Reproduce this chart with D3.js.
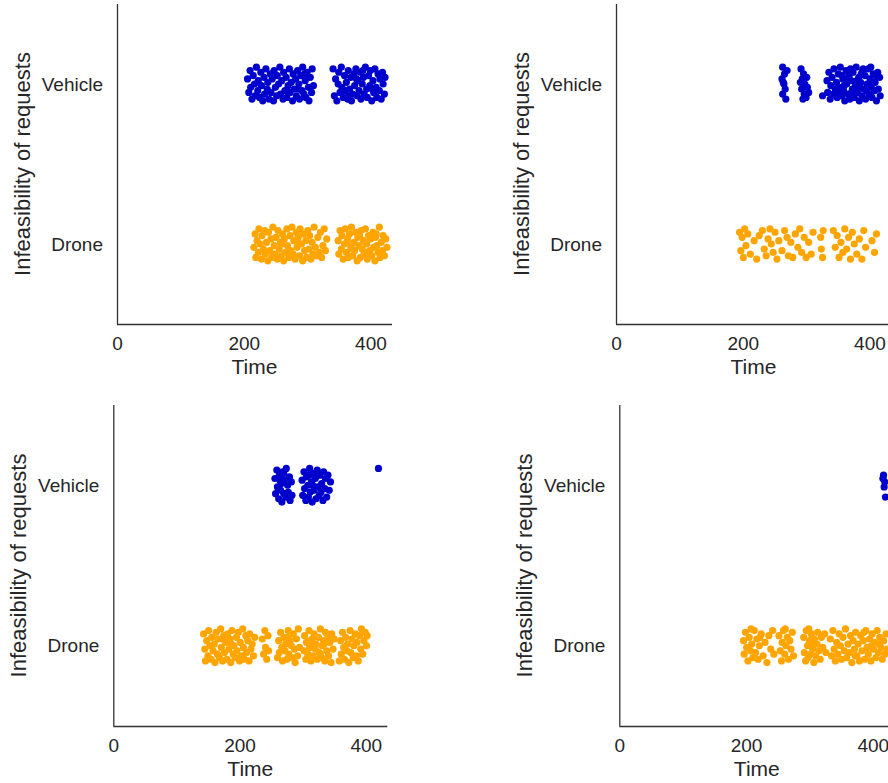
<!DOCTYPE html>
<html>
<head>
<meta charset="utf-8">
<script src="https://cdn.jsdelivr.net/npm/d3@7"></script>
<style>
  html, body { margin: 0; padding: 0; background: #ffffff; }
  svg { display: block; font-family: "Liberation Sans", Arial, sans-serif; }
</style>
</head>
<body>
<svg id="chart" width="888" height="783"></svg>
<script>
// Categories on the y axis and shared x axis settings
const categories = ["Vehicle", "Drone"];
const xTicks = [0, 200, 400];
const xDomain = [0, 434];
const yLabel = "Infeasibility of requests";
const xLabel = "Time";

// Each point: [time, jitter offset in hundredths of a category step]
const run1Vehicle = [
  [206,-3],[208,5],[210,-8],[211,2],[213,9],[215,-5],[217,0],[218,7],[220,-10],[222,4],[223,-2],[225,8],[227,-7],[228,1],[230,10],[232,-4],[233,6],[235,-9],[237,3],[238,-1],[240,9],[242,-6],[243,5],[245,-3],[247,10],[248,-8],[250,2],[252,7],[253,-5],[255,0],[257,-10],[258,6],[260,-2],[262,9],[263,-7],[265,4],[267,-4],[268,8],[270,1],[272,-9],[273,5],[275,-1],[277,10],[278,-6],[280,3],[282,-3],[283,7],[285,-8],[287,0],[288,9],[290,-5],[292,4],[293,-10],[295,6],[297,-2],[298,8],[300,-7],[302,2],[303,10],[305,-4],[307,5],[308,-9],[310,1],[296,-6],[286,3],
  [341,-9],[343,7],[345,-3],[347,10],[349,0],[350,-7],[352,5],[354,-10],[355,2],[357,8],[359,-5],[360,4],[362,-1],[364,9],[365,-8],[367,3],[369,-4],[370,10],[372,6],[374,-6],[375,1],[377,-9],[379,7],[380,-2],[382,4],[384,-7],[385,9],[387,0],[389,-4],[390,6],[392,-10],[394,3],[395,8],[397,-5],[399,1],[400,-8],[402,10],[404,-2],[405,5],[407,-9],[409,2],[410,8],[412,-6],[414,4],[415,-3],[417,9],[419,-7],[420,0],[422,6],[423,-4],[378,-3],[366,7],[388,-8],[403,3]
];
const run1Drone = [
  [216,2],[218,-6],[219,8],[221,-2],[223,5],[224,-9],[226,0],[228,9],[229,-5],[231,3],[233,-8],[234,6],[236,-1],[238,10],[239,-7],[241,4],[243,-3],[244,8],[246,-10],[248,1],[249,6],[251,-4],[253,9],[254,-8],[256,3],[258,-1],[259,7],[261,-6],[263,10],[264,-3],[266,5],[268,-9],[269,1],[271,8],[273,-5],[274,4],[276,-10],[278,6],[279,-2],[281,9],[283,-7],[284,2],[286,-4],[288,7],[289,-9],[291,0],[293,10],[294,-6],[296,4],[298,-2],[299,8],[301,-8],[303,3],[304,-5],[306,9],[308,-1],[309,6],[311,-10],[313,2],[315,7],[317,-4],[319,5],[321,-7],[323,8],[325,1],[327,-9],[329,4],[331,-3],[260,0],[285,-1],
  [349,-2],[350,6],[352,-8],[354,3],[355,-5],[357,9],[359,0],[360,-9],[362,5],[364,-3],[365,8],[367,-6],[369,2],[370,-10],[372,7],[374,-1],[375,4],[377,-7],[379,10],[380,-4],[382,1],[384,8],[385,-8],[387,3],[389,-2],[390,6],[392,-9],[394,0],[395,9],[397,-5],[399,4],[400,-3],[402,7],[404,-7],[405,2],[407,10],[409,-6],[410,1],[412,5],[414,-10],[415,8],[417,-1],[419,4],[420,-5],[422,7],[424,-3],[426,2],[371,3],[383,-5],[396,5],[408,-4],[363,-1]
];

const run2Vehicle = [
  [263,-10],[266,-6],[262,-3],[265,0],[267,3],[263,6],[268,9],[270,-8],[264,-1],
  [292,-9],[296,-6],[294,-3],[298,0],[293,3],[297,6],[295,9],[301,-4],[302,2],[300,8],[304,5],[291,-1],
  [326,7],
  [333,-2],[334,5],[336,-7],[338,9],[339,1],[341,-4],[343,6],[344,-9],[346,3],[348,-1],[349,8],[351,-6],[353,2],[354,-10],[356,7],[358,-3],[359,4],[361,10],[363,-8],[364,0],[366,6],[368,-5],[369,9],[371,-2],[373,3],[374,-7],[376,8],[378,1],[379,-10],[381,5],[383,-4],[384,10],[386,-1],[388,7],[389,-8],[391,3],[393,-5],[394,9],[396,0],[398,-9],[399,6],[401,-3],[403,2],[404,8],[406,-6],[408,4],[409,-1],[411,10],[413,-7],[414,3],[416,-4],[417,7],[402,-10],[387,-6],[372,5],[357,-5],[395,4],[380,-2],[365,-3],[350,4],[370,-9],[385,2],[400,0],[410,-5],[375,6],[360,1],[390,-9]
];
const run2Drone = [
  [195,-7],[197,4],[199,-4],[201,8],[203,-9],[205,1],[208,-6],[212,6],[218,-2],[222,9],[226,-5],[231,-8],[234,3],[237,7],[240,-3],[243,-9],[245,0],[248,5],[251,-7],[254,9],[257,-2],[262,4],[266,-8],[270,-4],[272,7],[276,-1],[279,8],[283,-6],[287,2],[290,-9],[293,5],[297,-4],[300,8],[304,-1],[308,6],[311,-7],[323,-4],[324,3],[326,8],[327,-8],[343,-8],[346,2],[349,-5],[352,8],[355,-1],[358,5],[361,-9],[364,3],[367,-4],[370,9],[373,-7],[376,0],[380,6],[384,-3],[388,9],[391,-8],[394,2],[404,-2],[408,5],[411,-6]
];

const run3Vehicle = [
  [256,-4],[257,5],[259,-9],[260,1],[262,8],[263,-6],[265,3],[266,-1],[267,10],[268,-8],[270,5],[271,-3],[273,7],[274,-10],[276,0],[277,4],[279,-5],[280,9],[282,-2],[283,6],[270,-7],[264,-3],
  [299,-3],[300,6],[302,-8],[303,2],[305,9],[306,-5],[308,0],[309,7],[311,-10],[312,4],[314,-2],[315,10],[317,-7],[318,3],[320,-4],[321,8],[323,-9],[324,1],[326,6],[327,-6],[329,4],[330,-1],[332,9],[333,-8],[335,2],[336,-4],[338,7],[340,-6],[342,3],[344,-2],[316,0],[310,-6],
  [420,-10]
];
const run3Drone = [
  [143,-7],[145,2],[146,9],[148,-3],[150,6],[151,-9],[153,0],[155,8],[156,-5],[158,3],[160,-1],[161,10],[163,-8],[165,5],[166,-4],[168,7],[170,-10],[171,1],[173,9],[175,-6],[176,4],[178,-2],[180,8],[181,-7],[183,2],[185,-4],[186,10],[188,-9],[190,5],[191,0],[193,7],[195,-5],[196,3],[198,-8],[200,9],[201,-2],[203,6],[205,-10],[206,1],[208,8],[210,-6],[211,4],[213,-3],[215,9],[216,-7],[218,2],[220,-1],[222,6],[224,-5],[187,-1],[172,-4],
  [236,-4],[238,5],[240,-9],[241,1],[243,8],[245,-6],[246,3],
  [260,7],[262,-3],[263,4],[265,-8],[267,1],[268,9],[270,-5],[272,3],[273,-1],[275,8],[277,-9],[278,5],[280,-3],[282,0],[283,7],[285,-7],[287,2],[288,10],[290,-4],[292,6],[293,-10],[295,1],[276,-5],
  [302,3],[303,-6],[305,8],[306,-2],[308,5],[310,-9],[311,1],[313,9],[315,-4],[316,6],[318,-7],[320,2],[321,-1],[323,8],[325,-5],[326,4],[328,-10],[330,7],[331,0],[333,-3],[335,9],[336,-8],[338,3],[340,-5],[341,6],[343,-2],[345,10],[346,-7],[348,2],[350,-4],[318,0],[328,5],[334,-1],[312,-3],
  [358,9],[360,-3],[361,5],[363,-8],[365,1],[366,8],[368,-5],[370,3],[371,-1],[373,10],[375,-9],[376,4],[378,-4],[380,7],[381,0],[383,-7],[385,6],[386,-2],[388,9],[390,-6],[392,2],[393,-10],[395,5],[397,-3],[399,-8],[401,0],[402,-6]
];

const run4Vehicle = [
  [417,-6],[419,-2],[418,1],[420,7],[416,-4]
];
const run4Drone = [
  [196,-3],[197,5],[199,-8],[201,1],[203,9],[205,-5],[207,3],[209,-1],[211,7],[213,-9],[215,4],[217,-4],[219,8],[221,0],[224,-7],[227,6],[230,-2],[233,10],[236,-6],[239,2],[242,-9],[244,5],[208,-10],[222,-5],
  [252,-6],[254,3],[256,9],[257,-2],[259,-9],[261,5],[263,0],[265,-5],[267,8],[269,-3],[271,2],[273,-8],[275,6],[262,-10],
  [291,-5],[292,4],[294,9],[295,-9],[297,0],[298,7],[300,-3],[302,5],[303,-7],[305,2],[307,10],[308,-4],[310,6],[312,-1],[313,-8],[315,3],[317,8],[319,-5],[321,1],[324,-7],[326,4],[299,-10],[306,-1],
  [333,-4],[335,6],[337,-9],[339,2],[341,9],[343,-2],[345,5],[347,-7],[349,0],[351,8],[353,-5],[355,3],[357,-10],[359,7],[361,-1],[363,4],[365,-6],[367,10],[369,-3],[371,2],[373,-8],[375,6],[377,-1],[379,9],[381,-6],[383,3],[385,-3],[387,8],[389,-9],[391,1],[393,5],[395,-4],[397,9],[399,-7],[401,2],[403,-2],[405,7],[407,-9],[409,4],[411,-5],[413,1],[415,8],[417,-3],[419,5],[421,-7],[423,2],[386,-8],[372,6],[398,0],[410,-1]
];

const runs = [
  { Vehicle: run1Vehicle, Drone: run1Drone },
  { Vehicle: run2Vehicle, Drone: run2Drone },
  { Vehicle: run3Vehicle, Drone: run3Drone },
  { Vehicle: run4Vehicle, Drone: run4Drone }
];

// Panel frames (axes origin and size) laid out as a 2x2 grid
const frames = [
  { left: 117, top: 4, width: 275, height: 320 },
  { left: 616, top: 4, width: 275, height: 320 },
  { left: 113.3, top: 405, width: 274, height: 321 },
  { left: 619.3, top: 405, width: 275, height: 321 }
];

const colors = { Vehicle: "#0000cd", Drone: "#ffa500" };
const textColor = "#262626";
const axisColor = "#333333";

const svg = d3.select("#chart");

runs.forEach((run, i) => {
  const f = frames[i];
  const x = d3.scaleLinear().domain(xDomain).range([f.left, f.left + f.width]);
  const y = d3.scalePoint().domain(categories).range([f.top, f.top + f.height]).padding(0.5);
  const step = y.step();

  const g = svg.append("g");

  // points
  categories.forEach(cat => {
    g.append("g")
      .selectAll("circle")
      .data(run[cat])
      .join("circle")
      .attr("cx", d => x(d[0]))
      .attr("cy", d => y(cat) + d[1] / 100 * step * 1.05)
      .attr("r", 3.6)
      .attr("fill", colors[cat]);
  });

  // bottom axis
  const xAxis = d3.axisBottom(x).tickValues(xTicks).tickSize(0).tickPadding(0);
  const gx = g.append("g")
    .attr("transform", `translate(0,${f.top + f.height})`)
    .call(xAxis);
  gx.select(".domain").attr("stroke", axisColor).attr("stroke-width", 1.3)
    .attr("d", `M${f.left},0.5H${f.left + f.width}`);
  gx.selectAll(".tick text")
    .attr("y", 26)
    .attr("dy", 0)
    .attr("fill", textColor)
    .style("font-size", "19px")
    .style("font-family", "'Liberation Sans', Arial, sans-serif");

  // left axis
  const yAxis = d3.axisLeft(y).tickSize(0).tickPadding(14);
  const gy = g.append("g")
    .attr("transform", `translate(${f.left},0)`)
    .call(yAxis);
  gy.select(".domain").attr("stroke", axisColor).attr("stroke-width", 1.3)
    .attr("d", `M0.5,${f.top}V${f.top + f.height}`);
  gy.selectAll(".tick text")
    .attr("fill", textColor)
    .style("font-size", "19px")
    .style("font-family", "'Liberation Sans', Arial, sans-serif");

  // axis titles
  g.append("text")
    .attr("x", f.left + f.width / 2)
    .attr("y", f.top + f.height + 50)
    .attr("text-anchor", "middle")
    .attr("fill", textColor)
    .style("font-size", "21px")
    .text(xLabel);

  g.append("text")
    .attr("transform", `translate(${f.left - 95},${f.top + f.height / 2}) rotate(-90)`)
    .attr("dy", "0.35em")
    .attr("text-anchor", "middle")
    .attr("fill", textColor)
    .style("font-size", "22px")
    .text(yLabel);
});
</script>
</body>
</html>
